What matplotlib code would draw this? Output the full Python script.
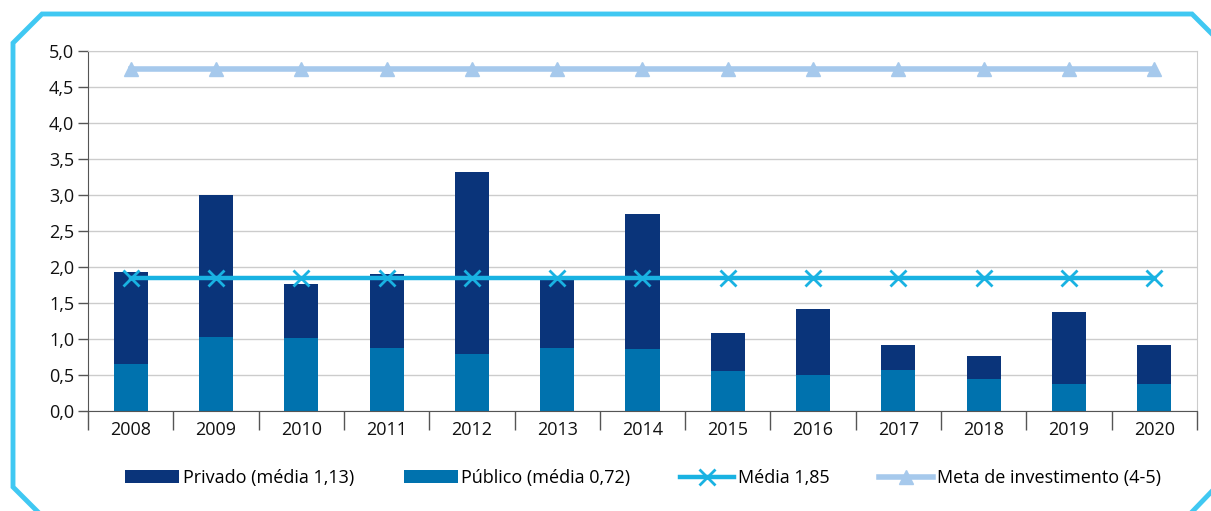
import numpy as np
import matplotlib.pyplot as plt
from matplotlib.lines import Line2D

plt.rcParams['font.family'] = ['Open Sans', 'DejaVu Sans']

anos = ['2008', '2009', '2010', '2011', '2012', '2013', '2014',
        '2015', '2016', '2017', '2018', '2019', '2020']
total = [1.93, 3.00, 1.77, 1.90, 3.32, 1.85, 2.74, 1.09, 1.42, 0.91, 0.77, 1.38, 0.91]
publico = [0.65, 1.03, 1.02, 0.87, 0.79, 0.87, 0.86, 0.56, 0.50, 0.57, 0.44, 0.37, 0.37]
privado = [t - p for t, p in zip(total, publico)]
media = 1.85
meta = 4.75

W, H = 1211, 511
fig = plt.figure(figsize=(W / 100, H / 100), dpi=100)
ax = fig.add_axes([88 / W, 1 - 411 / H, (1197 - 88) / W, (411 - 51) / H])

x = np.arange(len(anos))
c_priv = '#0a347a'
c_pub = '#0072ae'
c_media = '#19b2e2'
c_meta = '#a6c9ec'

b_pub = ax.bar(x, publico, width=0.4, color=c_pub, zorder=2)
b_priv = ax.bar(x, privado, width=0.4, bottom=publico, color=c_priv, zorder=2)
l_media, = ax.plot(x, [media] * len(x), color=c_media, lw=3.2, marker='x', ms=11,
                   mew=2, zorder=3)
l_meta, = ax.plot(x, [meta] * len(x), color=c_meta, lw=4, marker='^', ms=10, zorder=3)

ax.set_xlim(-0.5, len(anos) - 0.5)
ax.set_ylim(0, 5)
ax.set_yticks(np.arange(0, 5.01, 0.5))
ax.set_yticklabels([f'{v:.1f}'.replace('.', ',') for v in np.arange(0, 5.01, 0.5)])
ax.set_xticks(x)
ax.set_xticklabels(anos)
ax.set_xticks(np.arange(-0.5, len(anos)), minor=True)
ax.tick_params(axis='x', which='major', length=0, pad=7, labelsize=13, colors='#111111')
ax.tick_params(axis='x', which='minor', length=14, width=1, color='#555555')
ax.tick_params(axis='y', length=7, width=1, color='#555555', labelsize=13,
               labelcolor='#111111', pad=3)
ax.yaxis.grid(True, color='#cccccc', lw=1, zorder=0)
ax.set_axisbelow(True)
for s in ['top', 'right']:
    ax.spines[s].set_color('#cccccc')
for s in ['left', 'bottom']:
    ax.spines[s].set_color('#555555')

fig.legend([b_priv, b_pub, l_media, l_meta],
           ['Privado (média 1,13)', 'Público (média 0,72)', 'Média 1,85',
            'Meta de investimento (4-5)'],
           loc='center', bbox_to_anchor=(0.531, 1 - 478 / H), ncol=4, frameon=False,
           fontsize=13, handlelength=3.0, handletextpad=0.2, columnspacing=2.75)

# moldura com cantos chanfrados
def px(pts):
    return [p[0] / W for p in pts], [1 - p[1] / H for p in pts]

fx, fy = px([(40, 514), (13, 487), (13, 43), (42, 14), (1192, 14), (1215, 37)])
fig.add_artist(Line2D(fx, fy, color='#40c8f2', lw=3.5, solid_joinstyle='miter'))
fx, fy = px([(1215, 488), (1190, 514)])
fig.add_artist(Line2D(fx, fy, color='#40c8f2', lw=3.5))

fig.savefig('out.png', dpi=100)
